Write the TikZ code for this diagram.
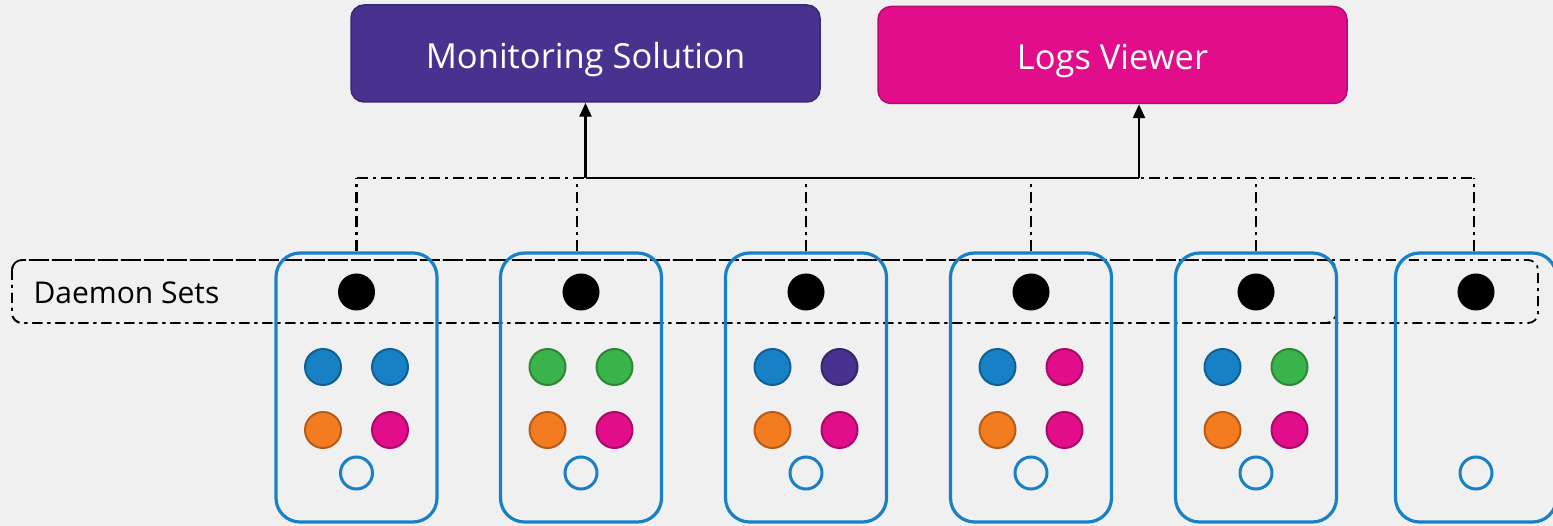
\documentclass[tikz,border=0pt]{standalone}
\usepackage{fontspec}
\setmainfont{Open Sans}
\usetikzlibrary{arrows.meta}
\definecolor{bg}{RGB}{240,240,240}
\definecolor{kpurple}{RGB}{72,50,144}
\definecolor{kpink}{RGB}{226,13,138}
\definecolor{kblue}{RGB}{24,128,196}
\definecolor{kgreen}{RGB}{58,180,74}
\definecolor{korange}{RGB}{243,123,32}
\begin{document}
\begin{tikzpicture}[x=1pt,y=-1pt,
  topbox/.style={rounded corners=13pt, line width=1.5pt, minimum width=469pt, minimum height=97pt, inner sep=0pt, text=white, text height=32pt, text depth=2pt, font=\fontsize{34.5}{40}\selectfont},
  nodebox/.style={draw=kblue, line width=3.2pt, rounded corners=24pt, minimum width=161pt, minimum height=269pt, inner sep=0pt},
  pod/.style={circle, minimum size=36pt, inner sep=0pt, line width=2pt},
  ds/.style={circle, fill=black, minimum size=37pt, inner sep=0pt},
  emptypod/.style={circle, draw=kblue, fill=bg, line width=3pt, minimum size=32pt, inner sep=0pt},
  dd/.style={line width=2.6pt, dash pattern=on 11pt off 5pt on 3pt off 5pt},
  ddbox/.style={line width=1.8pt, dash pattern=on 10pt off 5pt on 3pt off 5pt, rounded corners=10pt},
  arr/.style={line width=2.6pt, -{Triangle[length=14pt,width=12pt]}}
]
\fill[bg] (0,0) rectangle (1553,526);
\useasboundingbox (0,0) rectangle (1553,526);

% top boxes
\node[topbox, fill=kpurple, draw=kpurple!80!black] (mon) at (585.5,53.5) {Monitoring Solution};
\node[topbox, fill=kpink, draw=kpink!80!black] (logs) at (1112.5,55) {Logs Viewer};

% daemon set band
\draw[ddbox] (12,260) rectangle (1336,323);
\draw[ddbox] (12,260) rectangle (1538,323);
\node[anchor=west, font=\fontsize{30}{36}\selectfont] (dslabel) at (30,293) {Daemon Sets};

% worker nodes
\foreach \i/\x in {1/356.5, 2/581, 3/806, 4/1031, 5/1256, 6/1476} {
  \node[nodebox] (n\i) at (\x,387.5) {};
  \node[ds] (d\i) at (\x,292) {};
  \node[emptypod] (e\i) at (\x,473) {};
}

% pods
\foreach \i/\ca/\cb in {1/kblue/kblue, 2/kgreen/kgreen, 3/kblue/kpurple, 4/kblue/kpink, 5/kblue/kgreen} {
  \node[pod, fill=\ca, draw=\ca!75!black] (p\i a) at ([xshift=-33.5pt]d\i |- 0,367) {};
  \node[pod, fill=\cb, draw=\cb!75!black] (p\i b) at ([xshift=33.5pt]d\i |- 0,367) {};
  \node[pod, fill=korange, draw=korange!75!black] (p\i c) at ([xshift=-33.5pt]d\i |- 0,430) {};
  \node[pod, fill=kpink, draw=kpink!75!black] (p\i d) at ([xshift=33.5pt]d\i |- 0,430) {};
}

% bus
\coordinate (bus) at (0,178);
\coordinate (monin) at (585.5,178);
\coordinate (logsin) at (1139,178);
\draw[dd] (n1.north |- bus) -- (n6.north |- bus);
\foreach \i/\dx in {1/0, 2/-4, 3/0, 4/0, 5/0, 6/-2} {
  \draw[dd] ([xshift=\dx pt]n\i.north) -- ([xshift=\dx pt]n\i.north |- bus);
}
\draw[line width=2.6pt] (monin) -- (logsin);
\draw[arr] (monin) -- (mon.south);
\draw[arr] (logsin) -- (logsin |- logs.south);
\end{tikzpicture}
\end{document}
